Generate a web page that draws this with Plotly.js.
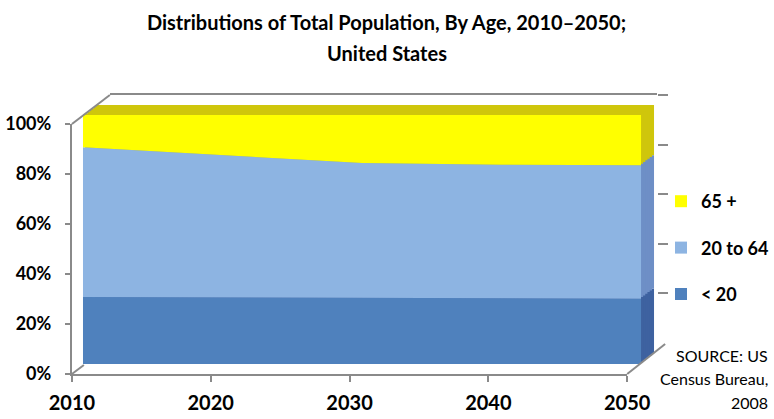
<!DOCTYPE html>
<html>
<head>
<meta charset="utf-8">
<script src="https://cdn.plot.ly/plotly-3.0.1.min.js"></script>
<style>
  html, body { margin: 0; padding: 0; background: #ffffff; }
  #chart { width: 774px; height: 419px; }
  #chart text { font-variant-ligatures: none; }
</style>
</head>
<body>
<div id="chart"></div>
<script>
// Population shares (%) by age group, US Census Bureau 2008 projections
const years = [2010, 2020, 2030, 2040, 2050];
const under20 = [26.9, 26.7, 26.5, 26.3, 26.2];
const age20to64 = [60.1, 57.2, 54.2, 53.7, 53.6];
const age65plus = [13.0, 16.1, 19.3, 20.0, 20.2];
const seriesNames = ['< 20', '20 to 64', '65 +'];
const yTicks = [0, 20, 40, 60, 80, 100];
const yTickText = ['0%', '20%', '40%', '60%', '80%', '100%'];
const sourceLines = ['SOURCE: US', 'Census Bureau,', '2008'];

const W = 774, H = 419;
const FONT = 'Lato, "Open Sans", sans-serif';

// pixel box -> paper domains
function dom(x0, x1, yBottom, yTop) {
  return { x: [x0 / W, x1 / W], y: [1 - yBottom / H, 1 - yTop / H] };
}
const px = v => v / W;
const py = v => 1 - v / H;

// geometry of the pseudo-3D box
const frontFace = { x0: 83, x1: 642, yb: 364, yt: 115 };
const depth = { dx: 13, dy: -10, steps: 6 };
const axisPlane = dom(72, 628, 374, 124);
const backWall = dom(110, 658, 343, 95);

const frontColors = ['#4F81BD', '#8DB4E2', '#FFFF00'];
const sideColors = ['#3E62A0', '#6E8FC6', '#CFC60C'];
const seriesValues = [under20, age20to64, age65plus];

const traces = [];
const layout = {
  width: W, height: H,
  margin: { l: 0, r: 0, t: 0, b: 0 },
  paper_bgcolor: '#ffffff',
  plot_bgcolor: 'rgba(0,0,0,0)',
  showlegend: true,
  font: { family: FONT, color: '#000000' },
  title: {
    text: '<b>Distributions of Total Population, By Age, 2010–2050;</b>',
    font: { family: FONT, size: 20, color: '#000000' },
    x: 0.5, xref: 'paper', xanchor: 'center',
    y: 1 - 23 / H, yref: 'paper', yanchor: 'middle'
  },
  annotations: [],
  shapes: []
};

// back wall: top edge and right-hand ticks (subplot x/y)
layout.xaxis = {
  domain: backWall.x, range: [years[0], years[years.length - 1]], anchor: 'y',
  side: 'top', showline: true, linecolor: '#8A8A8A', linewidth: 2,
  showgrid: false, zeroline: false, showticklabels: false, ticks: '', fixedrange: true
};
layout.yaxis = {
  domain: backWall.y, range: [0, 100], anchor: 'x', side: 'right',
  tickvals: yTicks.slice(1), ticks: 'outside', ticklen: 10, tickwidth: 2, tickcolor: '#8A8A8A',
  showline: false, showgrid: false, zeroline: false, showticklabels: false, fixedrange: true
};

// legend entries (square swatches), top to bottom
[2, 1, 0].forEach(i => {
  traces.push({
    type: 'scatter', mode: 'markers', x: [null], y: [null],
    xaxis: 'x', yaxis: 'y',
    name: '<b>' + seriesNames[i] + '</b>',
    legendgroup: 'g' + i,
    marker: { symbol: 'square', size: 12, color: frontColors[i] },
    hoverinfo: 'skip'
  });
});

// front axis plane: value axis and year axis (subplot x2/y2)
layout.xaxis2 = {
  domain: axisPlane.x, range: [years[0], years[years.length - 1]], anchor: 'y2',
  tickvals: years, ticktext: years.map(String),
  ticks: 'outside', ticklen: 6, tickwidth: 2, tickcolor: '#8A8A8A',
  showline: true, linecolor: '#8A8A8A', linewidth: 2,
  showgrid: false, zeroline: false, ticklabelstandoff: 4,
  tickfont: { family: FONT, size: 20, color: '#000000', weight: 'bold' }, fixedrange: true
};
layout.yaxis2 = {
  domain: axisPlane.y, range: [0, 100], anchor: 'x2',
  tickvals: yTicks, ticktext: yTickText,
  ticks: 'outside', ticklen: 5, tickwidth: 2, tickcolor: '#8A8A8A',
  showline: true, linecolor: '#8A8A8A', linewidth: 2,
  showgrid: false, zeroline: false, ticklabelstandoff: 10,
  tickfont: { family: FONT, size: 18, color: '#000000', weight: 'bold' }, fixedrange: true
};
traces.push({ type: 'scatter', mode: 'none', x: [null], y: [null], xaxis: 'x2', yaxis: 'y2', showlegend: false, hoverinfo: 'skip' });

// stacked areas, extruded: back copies first (side colours), front face last
for (let k = depth.steps; k >= 0; k--) {
  const n = depth.steps - k + 3;
  const ox = depth.dx * k / depth.steps, oy = depth.dy * k / depth.steps;
  const d = dom(frontFace.x0 + ox, frontFace.x1 + ox, frontFace.yb + oy, frontFace.yt + oy);
  const xa = 'xaxis' + n, ya = 'yaxis' + n;
  layout[xa] = { domain: d.x, range: [years[0], years[years.length - 1]], anchor: 'y' + n, visible: false, fixedrange: true };
  layout[ya] = { domain: d.y, range: [0, 100], anchor: 'x' + n, visible: false, fixedrange: true };
  const colors = k === 0 ? frontColors : sideColors;
  seriesValues.forEach((vals, i) => {
    traces.push({
      type: 'scatter', mode: 'lines', x: years, y: vals,
      xaxis: 'x' + n, yaxis: 'y' + n,
      stackgroup: 'layer' + k,
      line: { width: 0, color: colors[i] },
      fillcolor: colors[i],
      name: seriesNames[i], showlegend: false, hoverinfo: 'skip'
    });
  });
}

// depth edges of the box
layout.shapes.push(
  { type: 'line', xref: 'paper', yref: 'paper', x0: px(72), y0: py(124), x1: px(110), y1: py(95), line: { color: '#8A8A8A', width: 2 } },
  { type: 'line', xref: 'paper', yref: 'paper', x0: px(628), y0: py(374), x1: px(666), y1: py(344), line: { color: '#8A8A8A', width: 2 } },
  { type: 'line', xref: 'paper', yref: 'paper', x0: px(72), y0: py(374), x1: px(84), y1: py(365), line: { color: '#8A8A8A', width: 2 } }
);

// second title line
layout.annotations.push({
  text: '<b>United States</b>', xref: 'paper', yref: 'paper',
  x: 0.5, y: py(53), xanchor: 'center', yanchor: 'middle', showarrow: false,
  font: { family: FONT, size: 20, color: '#000000' }
});

// source note
sourceLines.forEach((line, i) => {
  layout.annotations.push({
    text: line, xref: 'paper', yref: 'paper',
    x: px(771), y: py(355 + i * 23.5), xanchor: 'right', yanchor: 'middle', showarrow: false,
    align: 'right', font: { family: FONT, size: 16, color: '#000000' }
  });
});

layout.legend = {
  x: px(662), y: py(183), xanchor: 'left', yanchor: 'top',
  traceorder: 'grouped', tracegroupgap: 20,
  bgcolor: 'rgba(0,0,0,0)', borderwidth: 0,
  font: { family: FONT, size: 18, color: '#000000' },
  itemwidth: 30
};

Plotly.newPlot('chart', traces, layout, { displayModeBar: false, staticPlot: true });
</script>
</body>
</html>
